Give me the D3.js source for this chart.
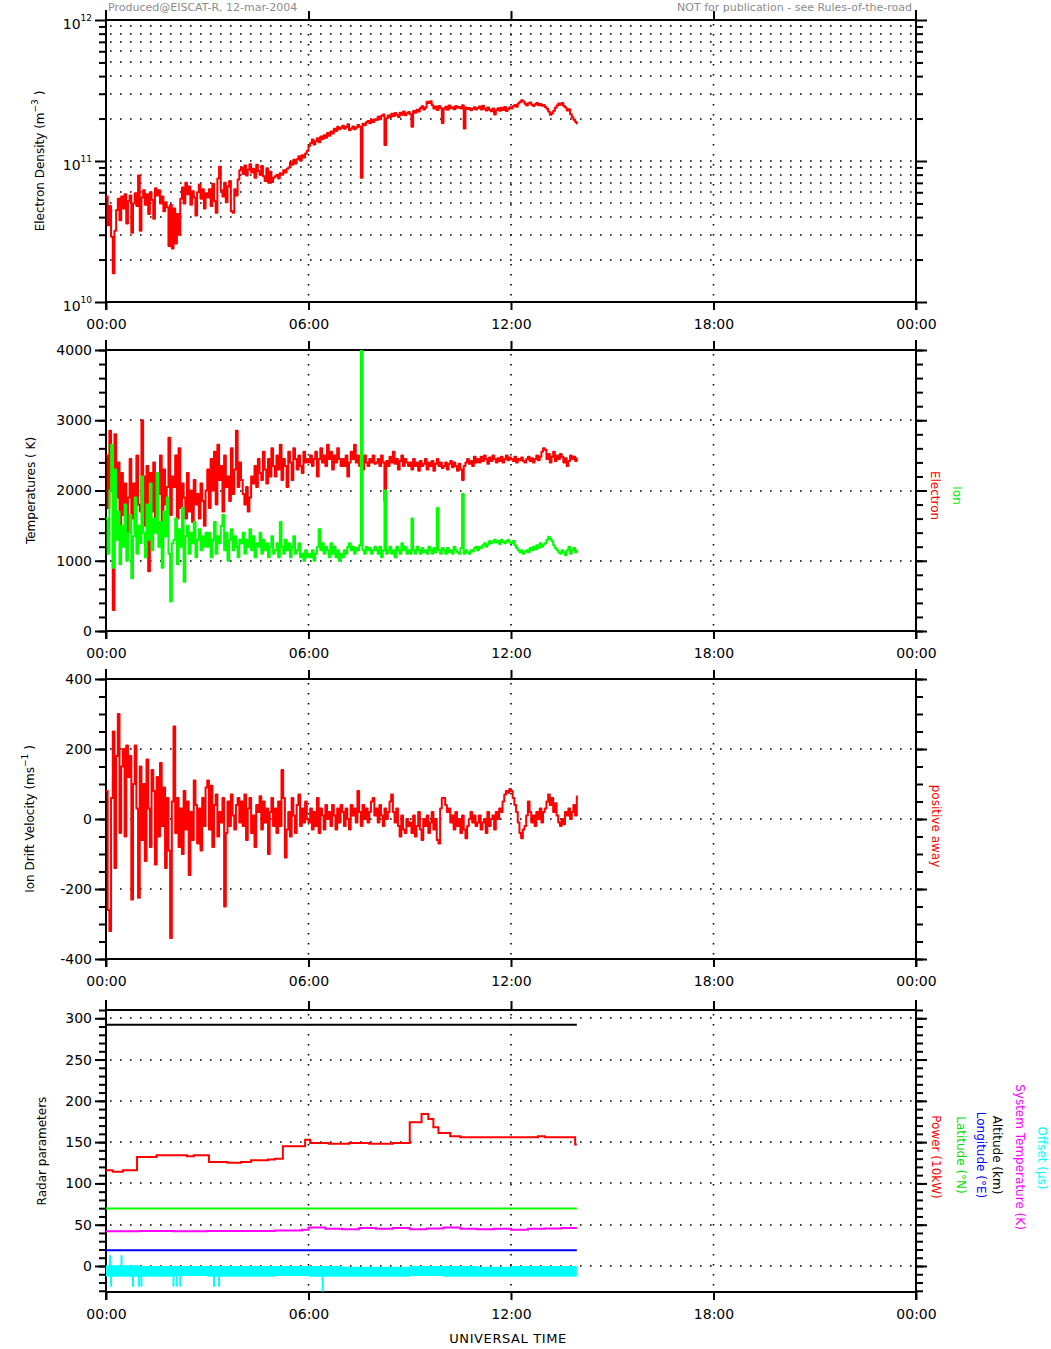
<!DOCTYPE html>
<html>
<head>
<meta charset="utf-8">
<script src="https://cdn.jsdelivr.net/npm/d3@7"></script>
<style>
body { margin: 0; background: #fff; }
svg { display: block; font-family: "DejaVu Sans", sans-serif; }
</style>
</head>
<body>
<svg id="chart" width="1051" height="1349"></svg>
<script>
// samples every 0.05 h (3 min), one row = one hour
var STEP = 0.05;

// electron density, units of 1e10 m^-3
var neDensity = [
	5.6, 3.5, 4.8, 2.9, 1.6, 3.2, 4.5, 5.4, 3.8, 5.6, 4.6, 5.8, 3.6, 5.2, 5.7, 3.1, 5.0, 5.9, 4.8, 7.9,
	3.2, 5.5, 6.2, 4.9, 5.8, 4.2, 6.0, 5.3, 3.9, 6.4, 5.7, 6.2, 5.0, 5.6, 4.4, 5.1, 4.7, 2.5, 4.9, 2.4,
	4.6, 2.6, 4.2, 3.0, 5.4, 6.5, 5.0, 7.0, 5.8, 6.6, 4.9, 6.1, 5.5, 4.1, 6.0, 6.8, 5.4, 6.3, 4.6, 5.9,
	5.5, 6.3, 4.8, 6.9, 5.2, 4.3, 7.5, 9.1, 6.2, 5.6, 7.0, 5.1, 6.6, 7.2, 4.4, 4.3, 6.3, 5.7, 7.4, 8.6,
	9.0, 8.1, 9.3, 7.9, 8.7, 9.5, 8.3, 8.8, 7.6, 9.4, 8.5, 8.0, 9.2, 7.8, 7.2, 8.9, 7.0, 8.4, 7.1, 7.6,
	7.8, 8.0, 7.5, 8.2, 8.0, 8.6, 8.3, 8.8, 9.0, 9.8, 9.4, 10.2, 9.6, 10.3, 10.8, 10.1, 11.0, 10.6, 11.3, 11.8,
	12.8, 13.4, 14.2, 13.1, 13.8, 14.5, 13.6, 14.9, 14.3, 15.2, 14.6, 15.8, 15.1, 16.2, 15.7, 16.9, 16.3, 17.5, 16.8, 17.2,
	17.8, 16.9, 17.4, 18.2, 16.5, 17.0, 17.6, 16.8, 17.3, 18.0, 17.5, 7.6, 18.4, 17.9, 18.8, 19.2, 18.5, 19.6, 18.9, 19.8,
	19.5, 20.6, 19.8, 20.9, 21.4, 13.0, 20.1, 21.0, 20.4, 21.6, 20.8, 21.9, 21.2, 20.5, 22.0, 21.3, 22.4, 21.1, 21.8, 22.3,
	21.5, 17.5, 22.6, 22.0, 23.1, 22.4, 23.8, 24.5, 23.2, 24.0, 26.3, 25.8, 26.5, 24.9, 23.6, 24.4, 23.0, 24.6, 23.8, 18.6,
	23.5, 24.3, 23.1, 24.8, 23.7, 24.1, 23.3, 24.6, 23.9, 24.2, 23.6, 24.9, 17.0, 24.0, 23.4, 23.8, 22.9, 23.5, 24.1, 23.2,
	23.8, 24.4, 23.2, 24.7, 23.5, 22.8, 24.0, 23.1, 22.5, 23.6, 21.4, 22.9, 23.7, 22.7, 23.9, 23.0, 24.2, 22.6, 23.4, 24.1,
	23.6, 24.5, 25.0, 24.3, 25.6, 26.2, 27.0, 26.4, 25.5, 24.8, 25.7, 26.0, 25.1, 24.6, 25.3, 25.8, 24.9, 25.4, 24.7, 25.0,
	24.2, 23.5, 22.4, 21.3, 21.8, 22.7, 23.9, 24.8, 25.6, 25.1, 25.8, 24.6, 24.0, 22.8, 23.3, 21.5, 20.4, 19.6, 18.9, 18.2
];

// electron temperature (K)
var electronTemp = [
	2500, 1750, 2850, 2200, 300, 2800, 1900, 2400, 1500, 2250, 1650, 2100, 1300, 1900, 2450, 1600, 2100, 1400, 2500, 1800,
	1700, 3000, 2200, 1500, 2350, 850, 2250, 1700, 2400, 1600, 2200, 1950, 2500, 1550, 2300, 1800, 2050, 2750, 1650, 2200,
	2050, 2500, 1600, 2600, 1750, 2100, 1900, 1600, 2250, 1700, 2000, 1550, 2150, 1800, 1950, 1600, 2100, 1850, 1500, 2000,
	2300, 1750, 2450, 2000, 2550, 1800, 2650, 2150, 2350, 1700, 2500, 2050, 2200, 1850, 2600, 1950, 2300, 2850, 2050, 2400,
	2150, 1950, 1800, 2050, 1700, 1900, 2200, 2100, 2350, 2050, 2450, 2250, 2150, 2550, 2300, 2100, 2450, 2200, 2600, 2350,
	2200, 2500, 2300, 2650, 2150, 2450, 2350, 2050, 2550, 2400, 2150, 2600, 2450, 2300, 2500, 2350, 2250, 2550, 2400, 2450,
	2400, 2500, 2350, 2450, 2550, 2200, 2450, 2600, 2400, 2500, 2350, 2650, 2450, 2550, 2300, 2500, 2400, 2600, 2450, 2350,
	2450, 2350, 2500, 2200, 2400, 2550, 2450, 2650, 2400, 2500, 2350, 2450, 2300, 2500, 2400, 2350, 2450, 2400, 2500, 2380,
	2400, 2450, 2350, 2500, 2400, 1850, 2420, 2350, 2480, 2400, 2550, 2380, 2450, 2300, 2420, 2500, 2350, 2450, 2400, 2350,
	2400, 2300, 2450, 2350, 2400, 2280, 2420, 2350, 2380, 2450, 2300, 2400, 2350, 2420, 2280, 2380, 2450, 2350, 2400, 2320,
	2350, 2400, 2300, 2380, 2420, 2330, 2400, 2350, 2280, 2380, 2300, 2150, 2350, 2400, 2450, 2380, 2420, 2350, 2480, 2400,
	2450, 2400, 2480, 2420, 2500, 2450, 2380, 2470, 2420, 2500, 2450, 2400, 2460, 2420, 2480, 2400, 2450, 2500, 2430, 2470,
	2450, 2420, 2480, 2400, 2450, 2430, 2470, 2420, 2400, 2450, 2480, 2420, 2460, 2400, 2450, 2500, 2430, 2480, 2550, 2600,
	2580, 2450, 2520, 2400, 2480, 2550, 2420, 2500, 2450, 2520, 2480, 2400, 2460, 2350, 2420, 2500, 2450, 2480, 2420, 2470
];

// ion temperature (K)
var ionTemp = [
	1600, 1100, 2000, 2650, 900, 2300, 1300, 1700, 950, 1500, 1200, 1800, 1000, 1400, 1650, 750, 1350, 1900, 1100, 1500,
	1250, 2200, 1400, 1050, 1800, 1300, 2100, 1150, 1600, 1400, 2250, 1200, 1550, 900, 1700, 1350, 1900, 1100, 420, 1250,
	1300, 1600, 950, 1450, 1200, 1750, 700, 1350, 1500, 1100, 1400, 1250, 1550, 1050, 1300, 1450, 1150, 1350, 1200, 1400,
	1200, 1400, 1050, 1300, 1550, 1100, 1350, 1250, 1500, 1650, 1150, 1400, 1000, 1300, 1450, 1150, 1350, 1200, 1050, 1300,
	1250, 1400, 1100, 1300, 1200, 1450, 1150, 1350, 1050, 1250, 1200, 1400, 1100, 1300, 1150, 1250, 1050, 1200, 1350, 1100,
	1150, 1250, 1050, 1550, 1200, 1100, 1300, 1150, 1250, 1050, 1200, 1350, 1100, 1150, 1250, 1050, 1100, 1000, 1150, 1050,
	1100, 1050, 1150, 1000, 1100, 1200, 1450, 1150, 1250, 1100, 1200, 1150, 1050, 1250, 1100, 1200, 1050, 1150, 1000, 1100,
	1050, 1150, 1100, 1200, 1250, 1150, 1200, 1100, 1180, 1150, 1220, 4000, 1150, 1100, 1200, 1150, 1180, 1100, 1150, 1200,
	1150, 1100, 1200, 1050, 1150, 2000, 1100, 1150, 1200, 1100, 1150, 1050, 1200, 1150, 1100, 1250, 1150, 1200, 1100, 1150,
	1100, 1600, 1150, 1100, 1200, 1150, 1100, 1180, 1120, 1150, 1100, 1200, 1150, 1100, 1180, 1120, 1750, 1150, 1100, 1180,
	1150, 1100, 1180, 1120, 1150, 1100, 1200, 1150, 1120, 1100, 1180, 1950, 1100, 1150, 1120, 1100, 1150, 1130, 1180, 1200,
	1150, 1200, 1180, 1220, 1250, 1200, 1230, 1280, 1250, 1270, 1300, 1260, 1280, 1240, 1300, 1270, 1250, 1280, 1300, 1260,
	1250, 1280, 1220, 1180, 1150, 1120, 1150, 1100, 1130, 1150, 1120, 1180, 1150, 1200, 1160, 1220, 1180, 1250, 1200, 1230,
	1250, 1300, 1340, 1310, 1280, 1220, 1180, 1150, 1120, 1100, 1150, 1120, 1080, 1150, 1200, 1100, 1150, 1180, 1120, 1160
];

// ion drift velocity (m/s), positive away
var ionVelocity = [
	80, -260, -320, 60, 250, -140, 180, 300, -40, 150, 200, -50, 210, 120, 180, -230, 100, 210, 30, -225,
	150, -60, 100, -120, 170, 30, -80, 140, 80, -130, 120, -50, 160, -20, 90, -140, 60, -90, -340, 50,
	264, -40, 60, -80, 30, -100, 80, -30, 50, -160, 20, -60, 110, 40, -70, 30, -90, 60, -20, 90,
	110, -30, 95, -80, 40, 70, -50, 20, -10, 60, -250, -40, 50, -20, 70, 10, -30, 40, 60, -10,
	50, -20, 70, -60, 30, 60, -40, 10, -80, 40, 20, 65, -30, 50, -10, 30, -100, 20, 60, -20,
	30, -40, 50, -20, 140, 60, -110, -30, 20, -50, 60, 10, -40, 40, 70, -20, 30, -10, 50, 0,
	-10, 30, -30, 20, -20, 60, -40, 30, 10, -30, 40, 0, 20, -20, 40, 10, -30, 30, -10, 40,
	20, -20, 30, 0, -30, 40, 10, 30, -10, 80, 20, -20, 40, 0, 30, -10, 20, 50, 60, 10,
	30, -10, 40, 10, -20, 30, 0, 20, 50, 70, 20, -10, 30, -20, -50, 10, -30, -40, 0, -20,
	-10, -40, 10, -50, -20, 20, -30, -60, 0, -20, 10, -40, -10, 20, -30, 0, -60, -70, 30, 60,
	60, 40, 20, 30, -10, 10, -30, 20, -20, 0, -40, 10, -30, -55, -20, 0, 20, -10, 10, -20,
	-10, 10, -30, -10, 0, -40, 20, -20, 0, 10, -30, 20, 0, 30, 20, 50, 70, 80, 75, 86,
	80, 60, 40, 20, -10, -40, -55, -30, -20, 10, 50, 20, -10, 10, -20, 20, 0, 30, -10, 20,
	30, 50, 70, 40, 60, 20, 45, 10, -10, -20, 0, -15, 20, 10, 30, 0, 20, 40, 10, 67
];

// radar parameters as [hour, value] steps
var powerSteps = [
	[0, 116], [0.2, 114], [0.5, 116], [0.92, 132], [1.5, 134], [2.4, 133], [2.6, 134], [3.05, 126],
	[3.6, 125], [4.0, 126], [4.3, 128], [4.8, 129], [5.0, 130], [5.24, 145], [5.9, 153], [6.05, 149],
	[6.6, 148], [7.2, 149], [7.8, 148], [8.5, 149], [9.0, 174], [9.35, 184], [9.55, 178], [9.7, 168],
	[9.85, 161], [10.2, 157], [10.5, 156], [12.8, 157], [13.0, 156], [13.9, 147], [13.95, 147]
];
var sysTempSteps = [
	[0, 42], [1.0, 42.5], [2.0, 42], [3.0, 42.5], [5.0, 43], [5.8, 44], [6.0, 46.5], [6.5, 45],
	[7.0, 44.5], [7.5, 46], [8.0, 45], [8.5, 46], [9.0, 44.5], [9.5, 45.5], [10.0, 46.5], [10.5, 45],
	[11.0, 44.5], [11.5, 45], [12.0, 44], [12.5, 45], [13.0, 45.5], [13.5, 46], [13.95, 46]
];
var altitudeSteps = [[0, 292], [13.95, 292]];
var latitudeSteps = [[0, 69.6], [13.95, 69.6]];
var longitudeSteps = [[0, 19.2], [13.95, 19.2]];
// offset (us): hourly band [hour, high, low] plus single spikes [hour, value]
var offsetBand = [
	[0, 1, -13], [1, 0, -13], [2, 0, -12], [3, 0, -13], [4, 0, -13], [5, 0, -12], [6, 0, -13],
	[7, -1, -13], [8, -1, -13], [9, 0, -12], [10, 0, -13], [11, -1, -13], [12, 0, -13], [13, 0, -13], [13.95, 0, -13]
];
var offsetSpikes = [
	[0.12, 13], [0.15, -25], [0.46, 13], [0.8, -25], [0.98, -25], [1.05, -25], [2.0, -25],
	[2.1, -25], [2.2, -25], [3.2, -25], [3.35, -25], [6.42, -31]
];

var hourTicks = [0, 6, 12, 18, 24];

var svg = d3.select('#chart');
var x = d3.scaleLinear().domain([0, 24]).range([106, 916]);

function hhmm(d){
	var h = d % 24;
	return (h < 10 ? '0' : '') + h + ':00';
}
function plain(d){ return String(d); }

function styleAxis(ag){
	ag.select('.domain').remove();
	ag.selectAll('.tick line').attr('stroke', '#000').attr('stroke-width', 2);
	ag.selectAll('.tick text').attr('fill', '#000').attr('font-size', 14)
		.attr('font-family', '"DejaVu Sans", sans-serif');
	return ag;
}

function makePanel(cfg){
	var top = cfg.top, bottom = cfg.bottom;
	var y = cfg.y.range([bottom, top]);
	var g = svg.append('g');

	// dotted grid
	g.append('g').selectAll('line').data(cfg.grid).enter().append('line')
		.attr('x1', x(0) + 4).attr('x2', x(24))
		.attr('y1', function(d){ return Math.round(y(d)); })
		.attr('y2', function(d){ return Math.round(y(d)); })
		.attr('stroke', '#000').attr('stroke-width', 1.6)
		.attr('stroke-dasharray', '1.6 8.4');
	g.append('g').selectAll('line').data([6, 12, 18]).enter().append('line')
		.attr('x1', function(d){ return x(d); }).attr('x2', function(d){ return x(d); })
		.attr('y1', top + 4).attr('y2', bottom)
		.attr('stroke', '#000').attr('stroke-width', 1.6)
		.attr('stroke-dasharray', '1.6 8.4');

	// axes
	styleAxis(g.append('g').attr('transform', 'translate(' + x(0) + ',0)')
		.call(d3.axisLeft(y).tickValues(cfg.minor).tickSize(7).tickFormat('')));
	var lab = styleAxis(g.append('g').attr('transform', 'translate(' + x(0) + ',0)')
		.call(d3.axisLeft(y).tickValues(cfg.major).tickSize(11).tickPadding(3).tickFormat(cfg.fmt || plain)));
	if (cfg.labelFix) cfg.labelFix(lab);
	styleAxis(g.append('g').attr('transform', 'translate(' + x(24) + ',0)')
		.call(d3.axisRight(y).tickValues(cfg.minor).tickSize(7).tickFormat('')));
	styleAxis(g.append('g').attr('transform', 'translate(' + x(24) + ',0)')
		.call(d3.axisRight(y).tickValues(cfg.major).tickSize(11).tickFormat('')));
	styleAxis(g.append('g').attr('transform', 'translate(0,' + bottom + ')')
		.call(d3.axisBottom(x).tickValues(hourTicks).tickSize(8).tickPadding(9).tickFormat(hhmm)));
	styleAxis(g.append('g').attr('transform', 'translate(0,' + top + ')')
		.call(d3.axisTop(x).tickValues([6, 12, 18]).tickSize(9).tickFormat('')));

	// frame
	var frame = [[x(0), top, x(24), top], [x(0), bottom, x(24), bottom],
		[x(0), top - 10, x(0), bottom + 8], [x(24), top - 10, x(24), bottom + 8]];
	g.append('g').selectAll('line').data(frame).enter().append('line')
		.attr('x1', function(d){ return d[0]; }).attr('y1', function(d){ return d[1]; })
		.attr('x2', function(d){ return d[2]; }).attr('y2', function(d){ return d[3]; })
		.attr('stroke', '#000').attr('stroke-width', 2);

	// y title
	var t = g.append('text')
		.attr('transform', 'translate(' + cfg.titleX + ',' + (top + bottom) / 2 + ') rotate(-90)')
		.attr('text-anchor', 'middle').attr('dy', '0.35em')
		.attr('font-size', 12).attr('fill', '#000');
	t.append('tspan').text(cfg.title);
	if (cfg.titleSup) {
		t.append('tspan').attr('dy', -6).attr('font-size', 9).text(cfg.titleSup);
		t.append('tspan').attr('dy', 6).text(' )');
	}

	// right labels
	(cfg.right || []).forEach(function(r){
		g.append('text')
			.attr('transform', 'translate(' + r.x + ',' + (r.y || (top + bottom) / 2 + 5) + ') rotate(90)')
			.attr('text-anchor', 'middle').attr('dy', '0.35em')
			.attr('font-size', 12).attr('fill', r.color).text(r.text);
	});

	// clip for data
	var id = 'clip' + top;
	svg.append('clipPath').attr('id', id).append('rect')
		.attr('x', x(0)).attr('y', top).attr('width', x(24) - x(0)).attr('height', bottom - top);
	var plot = g.append('g').attr('clip-path', 'url(#' + id + ')');
	return {g: g, plot: plot, y: y};
}

function sampleLine(p, values, color, factor){
	var line = d3.line()
		.x(function(d, i){ return x(i * STEP); })
		.y(function(d){ return p.y(d * (factor || 1)); })
		.curve(d3.curveStepAfter);
	p.plot.append('path').datum(values)
		.attr('fill', 'none').attr('stroke', color).attr('stroke-width', 2)
		.attr('stroke-linejoin', 'round').attr('d', line);
}

function stepLine(p, steps, color, width){
	var line = d3.line()
		.x(function(d){ return x(d[0]); })
		.y(function(d){ return p.y(d[1]); })
		.curve(d3.curveStepAfter);
	p.plot.append('path').datum(steps)
		.attr('fill', 'none').attr('stroke', color).attr('stroke-width', width || 2)
		.attr('d', line);
}

// header
svg.append('text').attr('x', 108).attr('y', 11).attr('font-size', 11).attr('fill', '#8c8c8c')
	.text('Produced@EISCAT-R, 12-mar-2004');
svg.append('text').attr('x', 912).attr('y', 11).attr('font-size', 11).attr('fill', '#8c8c8c')
	.attr('text-anchor', 'end').text('NOT for publication - see Rules-of-the-road');

// panel 1: electron density
var logMinor = [2, 3, 4, 5, 6, 7, 8, 9].map(function(m){ return m * 1e10; })
	.concat([2, 3, 4, 5, 6, 7, 8, 9].map(function(m){ return m * 1e11; }));
var p1 = makePanel({
	top: 20, bottom: 302,
	y: d3.scaleLog().domain([1e10, 1e12]),
	major: [1e10, 1e11, 1e12], minor: logMinor, grid: logMinor.concat([1e11]),
	fmt: function(){ return ''; },
	labelFix: function(ag){
		ag.selectAll('.tick text').text('10').attr('dy', '0.6em')
			.append('tspan').attr('dy', -8).attr('font-size', 9)
			.text(function(d){ return Math.round(Math.log10(d)); });
	},
	titleX: 40, title: 'Electron Density (m', titleSup: '\u22123'
});
sampleLine(p1, neDensity, '#ff0000', 1e10);

// panel 2: temperatures
var p2 = makePanel({
	top: 350, bottom: 631,
	y: d3.scaleLinear().domain([0, 4000]),
	major: [0, 1000, 2000, 3000, 4000], minor: d3.range(0, 4001, 200), grid: [1000, 2000, 3000],
	titleX: 31, title: 'Temperatures ( K)',
	right: [{x: 935, text: 'Electron', color: '#ff0000'}, {x: 957, text: 'Ion', color: '#00ee00'}]
});
sampleLine(p2, electronTemp, '#ff0000');
sampleLine(p2, ionTemp, '#00ff00');

// panel 3: ion drift velocity
var p3 = makePanel({
	top: 679, bottom: 959,
	y: d3.scaleLinear().domain([-400, 400]),
	major: [-400, -200, 0, 200, 400], minor: d3.range(-400, 401, 50), grid: [-400, -200, 0, 200],
	titleX: 30, title: 'Ion Drift Velocity (ms', titleSup: '\u22121',
	right: [{x: 936, text: 'positive away', color: '#ff0000', y: 826}]
});
sampleLine(p3, ionVelocity, '#ff0000');

// panel 4: radar parameters
var p4 = makePanel({
	top: 1010, bottom: 1292,
	y: d3.scaleLinear().domain([-31.5, 310]),
	major: [0, 50, 100, 150, 200, 250, 300], minor: d3.range(-30, 311, 10), grid: [0, 50, 100, 150, 200, 250, 300],
	titleX: 42, title: 'Radar parameters',
	right: [
		{x: 936, y: 1157, text: 'Power (10kW)', color: '#ff0000'},
		{x: 961, y: 1155, text: 'Latitude (\u00b0N)', color: '#00dd00'},
		{x: 981, y: 1155, text: 'Longitude (\u00b0E)', color: '#0000ff'},
		{x: 997, y: 1155, text: 'Altitude (km)', color: '#000000'},
		{x: 1020, y: 1157, text: 'System Temperature (K)', color: '#ff00ff'},
		{x: 1042, y: 1158, text: 'Offset (\u00b5s)', color: '#00ffff'}
	]
});
var band = d3.area()
	.x(function(d){ return x(d[0]); })
	.y0(function(d){ return p4.y(d[2]); })
	.y1(function(d){ return p4.y(d[1]); })
	.curve(d3.curveStepAfter);
p4.plot.append('path').datum(offsetBand).attr('fill', '#00ffff').attr('d', band);
p4.plot.append('g').selectAll('line').data(offsetSpikes).enter().append('line')
	.attr('x1', function(d){ return x(d[0]); }).attr('x2', function(d){ return x(d[0]); })
	.attr('y1', p4.y(-6)).attr('y2', function(d){ return p4.y(d[1]); })
	.attr('stroke', '#00ffff').attr('stroke-width', 2);
stepLine(p4, longitudeSteps, '#0000ff');
stepLine(p4, sysTempSteps, '#ff00ff');
stepLine(p4, latitudeSteps, '#00ff00');
stepLine(p4, powerSteps, '#ff0000');
stepLine(p4, altitudeSteps, '#000000');

svg.append('text').attr('x', 508).attr('y', 1343).attr('text-anchor', 'middle')
	.attr('font-size', 13).attr('letter-spacing', 0.6).attr('fill', '#000').text('UNIVERSAL TIME');
</script>
</body>
</html>
